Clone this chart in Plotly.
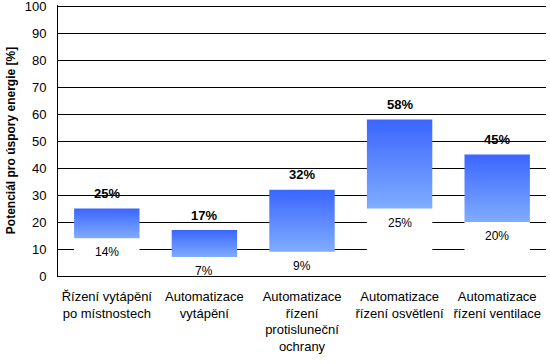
import plotly.graph_objects as go

categories = [
    "Řízení vytápění<br>po místnostech",
    "Automatizace<br>vytápění",
    "Automatizace<br>řízení<br>protisluneční<br>ochrany",
    "Automatizace<br>řízení osvětlení",
    "Automatizace<br>řízení ventilace",
]
low_values = [14, 7, 9, 25, 20]
high_values = [25, 17, 32, 58, 45]
y_ticks = list(range(0, 101, 10))

BAR_W = 0.67
FONT = "Liberation Sans, Arial, sans-serif"

fig = go.Figure()
xs = list(range(len(categories)))

# white base bars (hide gridlines beneath floating bars)
fig.add_trace(go.Bar(
    x=xs, y=low_values, width=BAR_W,
    marker=dict(color="white", line=dict(width=0)),
    hoverinfo="skip", showlegend=False,
))

# floating gradient bars
for i, (lo, hi) in enumerate(zip(low_values, high_values)):
    fig.add_trace(go.Scatter(
        x=[i - BAR_W / 2, i + BAR_W / 2, i + BAR_W / 2, i - BAR_W / 2, i - BAR_W / 2],
        y=[lo, lo, hi, hi, lo],
        mode="lines", line=dict(width=0),
        fill="toself",
        fillgradient=dict(type="vertical",
                          colorscale=[[0, "#80acff"], [1, "#3a66ff"]]),
        hoverinfo="skip", showlegend=False,
    ))

annotations = []
for i, (lo, hi) in enumerate(zip(low_values, high_values)):
    annotations.append(dict(
        x=i, y=hi, text=f"{hi}%", showarrow=False, yshift=15,
        font=dict(family=FONT, size=13, color="black", weight="bold"),
    ))
    annotations.append(dict(
        x=i, y=lo, text=f"{lo}%", showarrow=False, yshift=-14,
        font=dict(family=FONT, size=12, color="black"),
    ))

fig.update_layout(
    width=550, height=364,
    margin=dict(l=58, r=4, t=5, b=88, autoexpand=False),
    paper_bgcolor="white", plot_bgcolor="white",
    barmode="overlay",
    annotations=annotations,
    xaxis=dict(
        range=[-0.5, len(categories) - 0.5],
        tickvals=xs, ticktext=categories,
        tickfont=dict(family=FONT, size=13, color="black"),
        showgrid=False, zeroline=False,
        showline=True, linecolor="black", linewidth=1,
        ticks="", ticklabelstandoff=8, automargin=False,
        ticklabeloverflow="allow",
    ),
    yaxis=dict(
        range=[0, 100.4], tickvals=y_ticks,
        tickfont=dict(family=FONT, size=13, color="black"),
        showgrid=True, gridcolor="black", gridwidth=1,
        zeroline=False, showline=True, linecolor="black", linewidth=1,
        ticks="", ticklabelstandoff=8, automargin=False,
        ticklabeloverflow="allow",
        title=dict(text="Potenciál pro úspory energie [%]",
                   font=dict(family=FONT, size=12, color="black", weight="bold"),
                   standoff=6),
    ),
)

fig.write_html("out.html", config={"displayModeBar": False},
               post_script="document.body.style.margin='0';")
